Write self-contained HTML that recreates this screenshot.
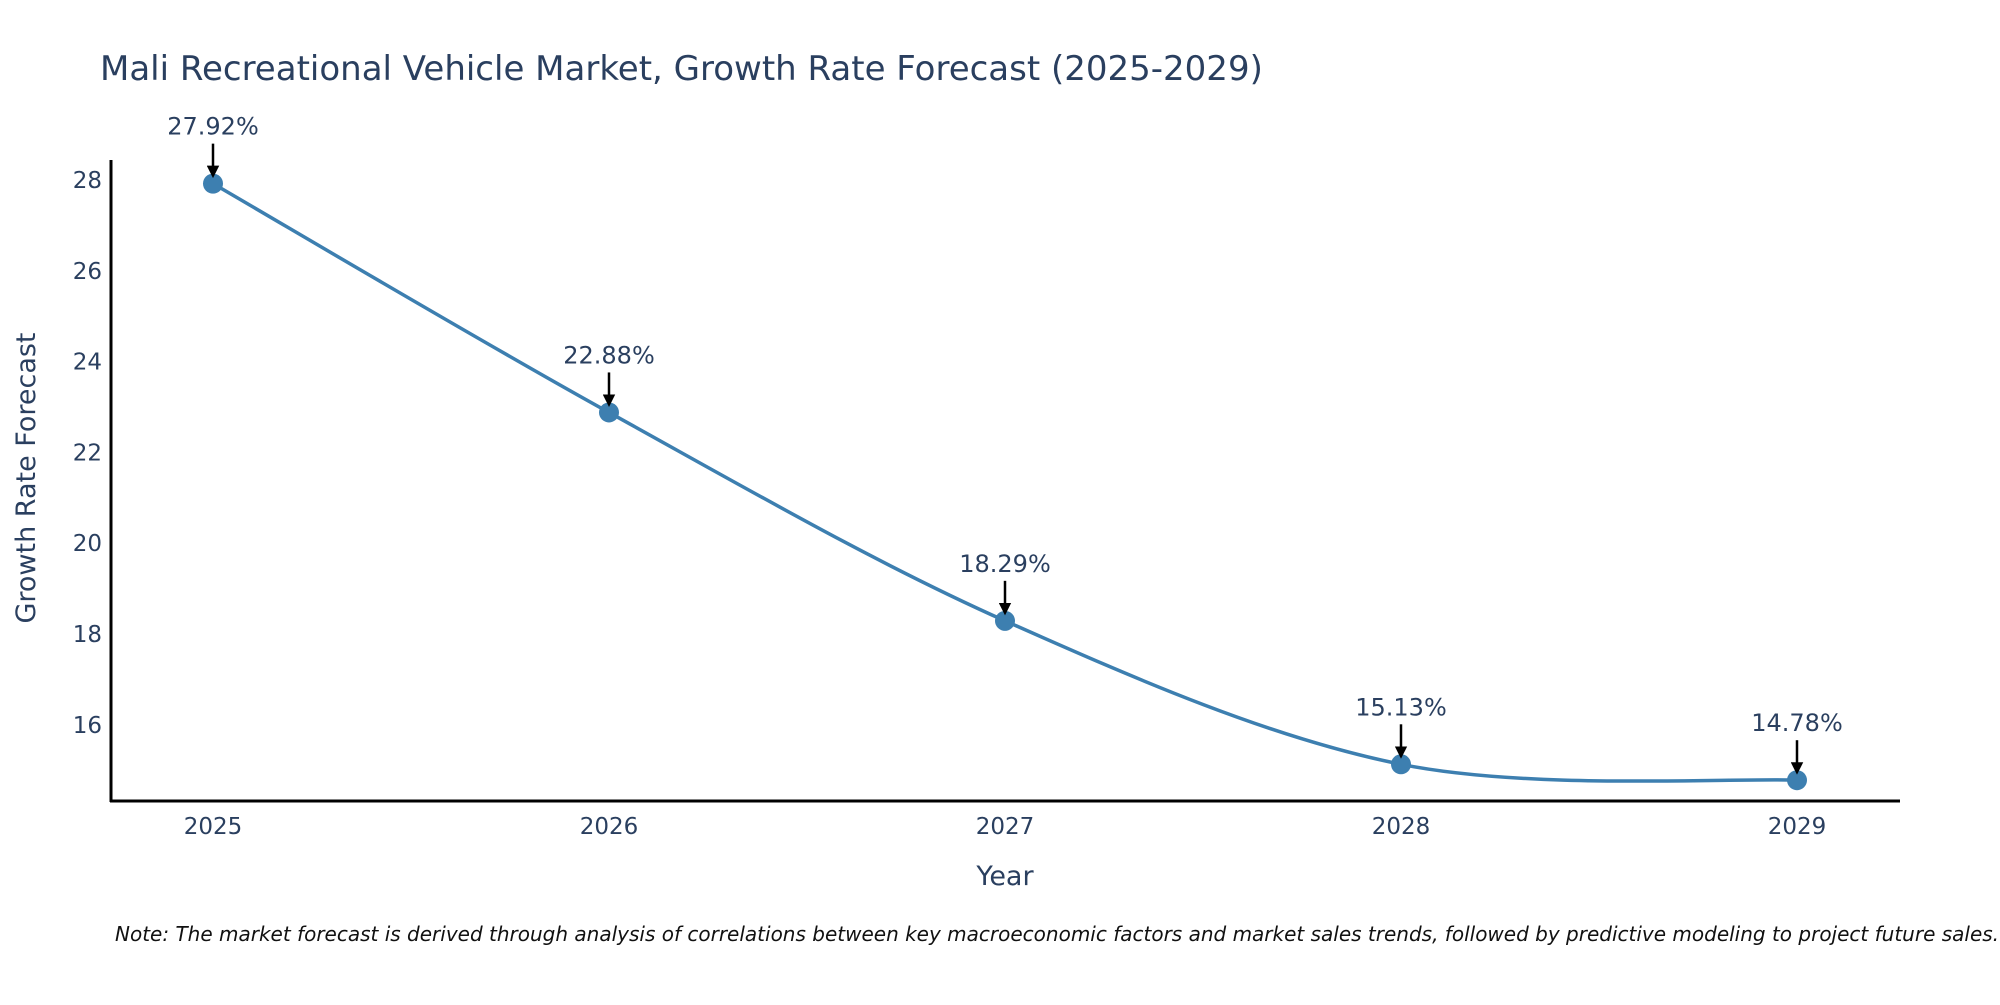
<!DOCTYPE html>
<html><head><meta charset="utf-8"><style>
body{margin:0;background:#fff;}
svg text{font-family:"DejaVu Sans","Liberation Sans",sans-serif;fill:#2a3f5f;}
</style></head><body>
<svg id="chart" width="2000" height="1000" xmlns="http://www.w3.org/2000/svg">
<defs><marker id="ah" markerWidth="5" markerHeight="5" refX="4" refY="2.5" orient="auto" markerUnits="strokeWidth"><path d="M0,0 L5,2.5 L0,5 Z" fill="#000"/></marker></defs>
<text x="100" y="80" font-size="34">Mali Recreational Vehicle Market, Growth Rate Forecast (2025-2029)</text>
<g id="yticks"></g><g id="xticks"></g>
<line x1="111" y1="160" x2="111" y2="802" stroke="#000" stroke-width="3"/>
<line x1="110" y1="801" x2="1900" y2="801" stroke="#000" stroke-width="3"/>
<path id="line" fill="none" stroke="#3d7fb0" stroke-width="3.5"/>
<g id="marks"></g>
<text x="1005" y="885" font-size="27" text-anchor="middle">Year</text>
<text transform="translate(35,478) rotate(-90)" font-size="27" text-anchor="middle">Growth Rate Forecast</text>
<text x="115" y="941" font-size="20" font-style="italic" style="fill:#111">Note: The market forecast is derived through analysis of correlations between key macroeconomic factors and market sales trends, followed by predictive modeling to project future sales.</text>
</svg>
<script>
const years=[2025,2026,2027,2028,2029];
const values=[27.92,22.88,18.29,15.13,14.78];
const labels=["27.92%","22.88%","18.29%","15.13%","14.78%"];
const yTicks=[16,18,20,22,24,26,28];
const ns="http://www.w3.org/2000/svg";
function X(y){return 213+(y-2025)*396;}
function Y(v){return 180+(28-v)*45.4;}
function mk(t,a,p){const e=document.createElementNS(ns,t);for(const k in a)e.setAttribute(k,a[k]);p.appendChild(e);return e;}
const yt=document.getElementById('yticks'),xt=document.getElementById('xticks'),mg=document.getElementById('marks');
yTicks.forEach(v=>{const t=mk('text',{x:102,y:Y(v)+8,'font-size':23,'text-anchor':'end'},yt);t.textContent=v;

});
years.forEach(y=>{const t=mk('text',{x:X(y),y:834,'font-size':23,'text-anchor':'middle'},xt);t.textContent=y;

});
const pts=years.map((y,i)=>[X(y),Y(values[i])]);
let d='M'+pts[0][0]+','+pts[0][1];const s=0.33;
for(let i=0;i<pts.length-1;i++){const p0=pts[Math.max(0,i-1)],p1=pts[i],p2=pts[i+1],p3=pts[Math.min(pts.length-1,i+2)];
d+=` C${p1[0]+(p2[0]-p0[0])*s/2},${p1[1]+(p2[1]-p0[1])*s/2} ${p2[0]-(p3[0]-p1[0])*s/2},${p2[1]-(p3[1]-p1[1])*s/2} ${p2[0]},${p2[1]}`;}
document.getElementById('line').setAttribute('d',d);
pts.forEach((p,i)=>{const c=mk('circle',{cx:p[0],cy:p[1],r:10,fill:'#3d7fb0'},mg);


const a=mk('line',{x1:p[0],y1:p[1]-40,x2:p[0],y2:p[1]-8,stroke:'#000','stroke-width':2.5,'marker-end':'url(#ah)'},mg);


const t=mk('text',{x:p[0],y:p[1]-49,'font-size':24,'text-anchor':'middle'},mg);t.textContent=labels[i];

});
</script>
</body></html>
